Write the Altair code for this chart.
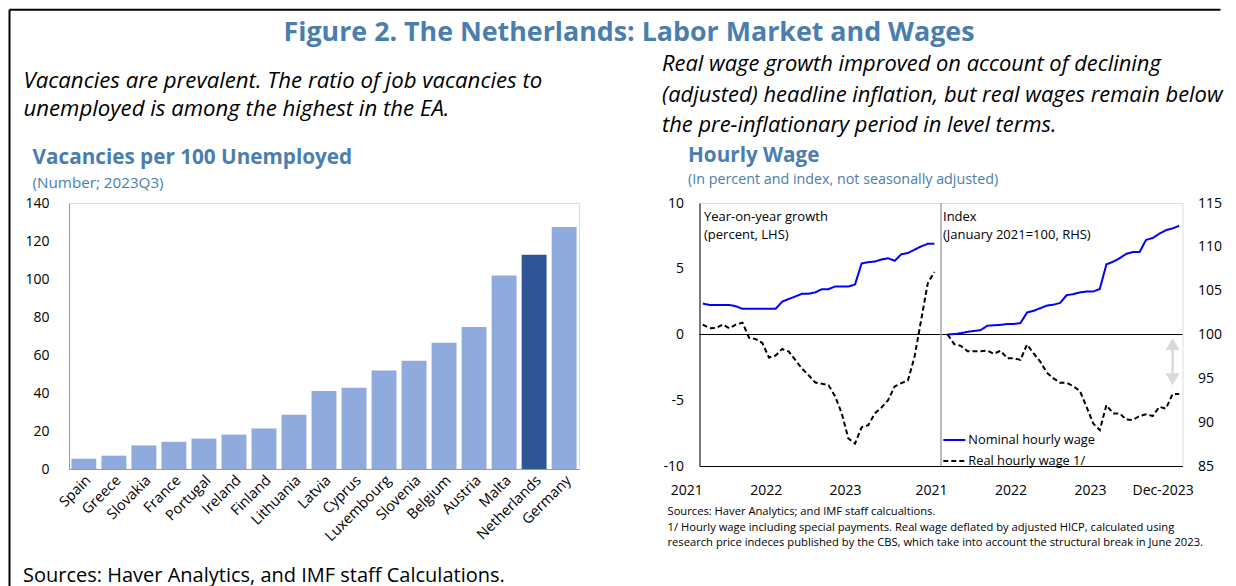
import altair as alt
import pandas as pd

FONT = "Open Sans"
TITLE_BLUE = "#4A7EAE"

# ---------------- data ----------------
countries = ["Spain", "Greece", "Slovakia", "France", "Portugal", "Ireland", "Finland",
             "Lithuania", "Latvia", "Cyprus", "Luxembourg", "Slovenia", "Belgium",
             "Austria", "Malta", "Netherlands", "Germany"]
vacancies = [5.4, 7.0, 12.4, 14.3, 16.0, 18.1, 21.3, 28.6, 41.1, 42.8, 51.9, 57.0,
             66.5, 74.7, 101.9, 112.8, 127.4]
highlight = "Netherlands"

series_names = ["Nominal hourly wage", "Real hourly wage 1/"]
yoy_nominal = [2.35, 2.25, 2.25, 2.25, 2.25, 2.15, 1.95, 1.95, 1.95, 1.95, 1.95, 1.95,
               2.5, 2.7, 2.9, 3.1, 3.1, 3.2, 3.45, 3.45, 3.65, 3.65, 3.65, 3.8,
               5.4, 5.5, 5.55, 5.7, 5.8, 5.6, 6.1, 6.2, 6.45, 6.7, 6.9, 6.9]
yoy_real = [0.76, 0.48, 0.5, 0.76, 0.48, 0.75, 0.9, -0.25, -0.35, -0.65, -1.75, -1.6,
            -1.1, -1.3, -1.95, -2.6, -3.1, -3.65, -3.75, -3.85, -4.7, -6.0, -7.9, -8.3,
            -7.05, -6.9, -6.0, -5.55, -5.0, -3.95, -3.7, -3.5, -1.7, 1.1, 3.9, 4.75]
idx_nominal = [100, 100.05, 100.15, 100.3, 100.4, 100.5, 101.0, 101.05, 101.1, 101.2, 101.2, 101.3,
               102.5, 102.7, 103.0, 103.3, 103.4, 103.6, 104.5, 104.6, 104.8, 104.9, 104.9, 105.2,
               108.0, 108.3, 108.7, 109.2, 109.4, 109.4, 110.8, 111.0, 111.5, 111.9, 112.1, 112.4]
idx_real = [100, 98.9, 98.7, 98.1, 98.1, 98.1, 98.15, 97.8, 98.15, 97.3, 97.3, 97.1,
            98.85, 97.85, 96.9, 95.65, 95.0, 94.5, 94.5, 94.1, 93.55, 91.75, 89.85, 89.1,
            91.95, 91.0, 91.0, 90.3, 90.25, 90.7, 90.9, 90.7, 91.75, 91.55, 93.2, 93.2]

left_panel_slots = list(range(0, 36))      # Jan-2021 .. Dec-2023 (yoy panel)
divider_slot = [36]
right_panel_slots = list(range(37, 73))    # Jan-2021 .. Dec-2023 (index panel)
x_label_slots = [0, 12, 24, 37, 49, 61, 72]
x_label_text = ["2021", "2022", "2023", "2021", "2022", "2023", "Dec-2023"]

arrow_slot = [71.0]
arrow_top = [98.9]
arrow_bottom = [94.9]

fig_title = "Figure 2. The Netherlands: Labor Market and Wages"
left_lead = ["Vacancies are prevalent. The ratio of job vacancies to",
             "unemployed is among the highest in the EA."]
right_lead = ["Real wage growth improved on account of declining",
              "(adjusted) headline inflation, but real wages remain below",
              "the pre-inflationary period in level terms."]
left_title = "Vacancies per 100 Unemployed"
left_sub = "(Number; 2023Q3)"
left_source = "Sources: Haver Analytics, and IMF staff Calculations."
right_title = "Hourly Wage"
right_sub = "(In percent and index, not seasonally adjusted)"
right_notes = ["Sources: Haver Analytics; and IMF staff calcualtions.",
               "1/ Hourly wage including special payments. Real wage deflated by adjusted HICP, calculated using",
               "research price indeces published by the CBS, which take into account the structural break in June 2023."]
ann_yoy = ["Year-on-year growth", "(percent, LHS)"]
ann_idx = ["Index", "(January 2021=100, RHS)"]

# ---------------- helpers ----------------
def txt(s, x, y, size, weight="normal", style="normal", color="black", align="left"):
    return alt.Chart(pd.DataFrame({"t": [s]})).mark_text(
        align=align, baseline="middle", font=FONT, fontSize=size,
        fontWeight=weight, fontStyle=style, color=color
    ).encode(text="t:N", x=alt.value(x), y=alt.value(y))


one = pd.DataFrame({"k": [0]})
ITAL = 22.2
ITAL_R = 21.9

# ---------------- left chart ----------------
bar_df = pd.DataFrame({"country": countries, "vacancies": vacancies})
bars = alt.Chart(bar_df).mark_bar().encode(
    x=alt.X("country:N", sort=countries, title=None,
            scale=alt.Scale(paddingInner=0.17, paddingOuter=0.08),
            axis=alt.Axis(labelAngle=-45, labelFont=FONT, labelFontSize=14.5, labelColor="black",
                          ticks=False, domainColor="#999999", labelPadding=4)),
    y=alt.Y("vacancies:Q", title=None, scale=alt.Scale(domain=[0, 140], nice=False),
            axis=alt.Axis(values=list(range(0, 141, 20)), labelFont=FONT, labelFontSize=14,
                          labelColor="black", ticks=False, grid=False, domainColor="#999999",
                          labelPadding=20)),
    color=alt.condition(f"datum.country == '{highlight}'", alt.value("#2F5597"), alt.value("#8FAADC")),
)

frame_top = alt.Chart(one).mark_rule(color="black", strokeWidth=2).encode(
    x=alt.value(-59.5), x2=alt.value(1151.5), y=alt.value(-193.3))
frame_left = alt.Chart(one).mark_rule(color="black", strokeWidth=2).encode(
    x=alt.value(-59.5), y=alt.value(-193.3), y2=alt.value(384))

left_layers = [bars, frame_top, frame_left,
               txt(fig_title, 560, -169.8, 26.8, weight="bold", color=TITLE_BLUE, align="center"),
               txt(left_lead[0], -45.5, -122, ITAL, style="italic"),
               txt(left_lead[1], -45.5, -94, ITAL, style="italic"),
               txt(left_title, -36.4, -45, 20.7, weight="bold", color=TITLE_BLUE),
               txt(left_sub, -36.4, -20.3, 15.2, color=TITLE_BLUE),
               txt(left_source, -46, 372.7, 20)]
left_chart = alt.layer(*left_layers).properties(width=510, height=266)

# ---------------- right chart ----------------
yoy_df = pd.DataFrame({
    "slot": left_panel_slots * 2,
    "v": yoy_nominal + yoy_real,
    "series": [series_names[0]] * 36 + [series_names[1]] * 36,
})
idx_df = pd.DataFrame({
    "slot": right_panel_slots * 2,
    "v": idx_nominal + idx_real,
    "series": [series_names[0]] * 36 + [series_names[1]] * 36,
})

label_expr = "''"
for s, t in reversed(list(zip(x_label_slots, x_label_text))):
    label_expr = f"datum.value == {s} ? '{t}' : ({label_expr})"

xs = alt.Scale(domain=[-0.5, 72.5], nice=False, zero=False)
x_axis = alt.Axis(values=x_label_slots, labelExpr=label_expr, labelOffset=-16.5, ticks=False,
                  grid=False, domainColor="black", labelFont=FONT, labelFontSize=14,
                  labelColor="black", labelPadding=17, labelFlush=False, labelOverlap=False)
yl_scale = alt.Scale(domain=[-10, 10], nice=False, zero=False)
yl_axis = alt.Axis(values=[-10, -5, 0, 5, 10], labelExpr="'' + datum.value", ticks=False, grid=False,
                   domainColor="black", labelFont=FONT, labelFontSize=14, labelColor="black",
                   labelPadding=16)
yr_scale = alt.Scale(domain=[85, 115], nice=False, zero=False)
yr_axis = alt.Axis(orient="right", values=[85, 90, 95, 100, 105, 110, 115], ticks=False, grid=False,
                   domain=False, labelFont=FONT, labelFontSize=14, labelColor="black", labelPadding=15)

leg = alt.Legend(orient="none", legendX=242.8, legendY=225, title=None, symbolType="stroke",
                 symbolSize=484, symbolStrokeWidth=2, labelFont=FONT, labelFontSize=12.8,
                 labelColor="black", labelOffset=2, rowPadding=2, direction="vertical")
color_enc = alt.Color("series:N", scale=alt.Scale(domain=series_names, range=["#0000FF", "#000000"]),
                      legend=leg)
dash_enc = alt.StrokeDash("series:N", scale=alt.Scale(domain=series_names, range=[[1, 0], [5, 3]]),
                          legend=leg)

zero_rule = alt.Chart(pd.DataFrame({"v": [0]})).mark_rule(color="black", strokeWidth=1).encode(
    y=alt.Y("v:Q", scale=yl_scale, axis=yl_axis, title=None))
divider = alt.Chart(pd.DataFrame({"slot": divider_slot})).mark_rule(color="#A6A6A6", strokeWidth=1.5).encode(
    x=alt.X("slot:Q", scale=xs, axis=x_axis, title=None))
yoy_lines = alt.Chart(yoy_df).mark_line(strokeWidth=2).encode(
    x=alt.X("slot:Q", scale=xs, axis=x_axis, title=None),
    y=alt.Y("v:Q", scale=yl_scale, axis=yl_axis, title=None),
    color=color_enc, strokeDash=dash_enc)

NOTE = 11.2
left_group = alt.layer(
    zero_rule, divider, yoy_lines,
    txt(ann_yoy[0], 4.5, 13.5, 13), txt(ann_yoy[1], 4.5, 31.5, 13),
    txt(ann_idx[0], 243.5, 13.5, 13), txt(ann_idx[1], 243.5, 31.5, 13),
    txt(right_lead[0], -37.5, -139, ITAL_R, style="italic"),
    txt(right_lead[1], -37.5, -108.5, ITAL_R, style="italic"),
    txt(right_lead[2], -37.5, -78, ITAL_R, style="italic"),
    txt(right_title, -11.5, -47, 20.7, weight="bold", color=TITLE_BLUE),
    txt(right_sub, -11.5, -23.5, 14.3, color=TITLE_BLUE),
    txt(right_notes[0], -32, 308.7, NOTE),
    txt(right_notes[1], -32, 324.5, NOTE),
    txt(right_notes[2], -32, 340.3, NOTE),
)

arrow_df = pd.DataFrame({"slot": arrow_slot, "top": arrow_top, "bottom": arrow_bottom})
arrow_shaft = alt.Chart(arrow_df).mark_rule(color="#D9D9D9", strokeWidth=2.5).encode(
    x=alt.X("slot:Q", scale=xs, axis=x_axis, title=None),
    y=alt.Y("top:Q", scale=yr_scale, axis=yr_axis, title=None), y2="bottom:Q")
arrow_up = alt.Chart(arrow_df).mark_point(shape="triangle-up", filled=True, size=190, color="#D9D9D9",
                                          opacity=1).encode(
    x=alt.X("slot:Q", scale=xs, axis=x_axis, title=None),
    y=alt.Y("top:Q", scale=yr_scale, axis=yr_axis, title=None))
arrow_down = alt.Chart(arrow_df).mark_point(shape="triangle-down", filled=True, size=190, color="#D9D9D9",
                                            opacity=1).encode(
    x=alt.X("slot:Q", scale=xs, axis=x_axis, title=None),
    y=alt.Y("bottom:Q", scale=yr_scale, axis=yr_axis, title=None))
idx_lines = alt.Chart(idx_df).mark_line(strokeWidth=2).encode(
    x=alt.X("slot:Q", scale=xs, axis=x_axis, title=None),
    y=alt.Y("v:Q", scale=yr_scale, axis=yr_axis, title=None),
    color=color_enc, strokeDash=dash_enc)

right_group = alt.layer(arrow_shaft, arrow_up, arrow_down, idx_lines)

right_chart = alt.layer(left_group, right_group).resolve_scale(y="independent").properties(
    width=483, height=263)

chart = alt.hconcat(left_chart, right_chart, spacing=120.5, bounds="flush").resolve_scale(
    color="independent", strokeDash="independent"
).properties(padding=0).configure_view(stroke="#999999", strokeWidth=1).configure(font=FONT)

chart.save("out.html", embed_options={"renderer": "svg", "actions": False})
